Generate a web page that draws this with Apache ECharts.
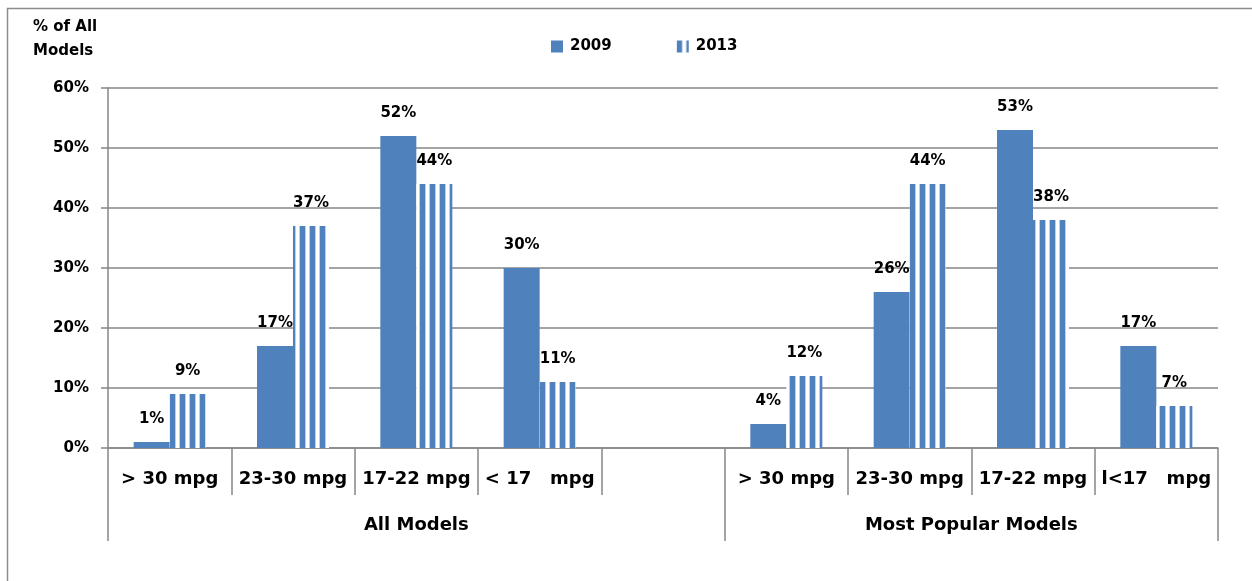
<!DOCTYPE html>
<html>
<head>
<meta charset="utf-8">
<title>Fuel economy distribution, 2009 vs 2013</title>
<script src="https://cdn.jsdelivr.net/npm/echarts@6/dist/echarts.min.js"></script>
<style>
  html, body { margin: 0; padding: 0; background: #fff; }
  #chart { width: 1252px; height: 581px; }
</style>
</head>
<body>
<div id="chart"></div>
<script>
// Fuel-economy bands; the blank slot separates the two model groups
const categories = ['> 30 mpg', '23-30 mpg', '17-22 mpg', '< 17   mpg', '', '> 30 mpg', '23-30 mpg', '17-22 mpg', 'l<17   mpg'];
const values2009 = [1, 17, 52, 30, null, 4, 26, 53, 17];
const values2013 = [9, 37, 44, 11, null, 12, 44, 38, 7];
const groupNames = ['All Models', 'Most Popular Models'];
// group spans in category slots: [start, end)
const groupSpans = [[0, 5], [5, 9]];
const yTicks = [0, 10, 20, 30, 40, 50, 60];

const BLUE = '#4f81bd';
const GRAY = '#868686';
const FONT = '"DejaVu Sans", "Open Sans", sans-serif';

// vertical stripe fill for the 2013 series
function stripePattern() {
  const c = document.createElement('canvas');
  c.width = 10; c.height = 10;
  const g = c.getContext('2d');
  g.fillStyle = '#ffffff';
  g.fillRect(0, 0, 10, 10);
  g.fillStyle = '#bcd0e8';
  g.fillRect(5, 0, 1, 10);
  g.fillRect(9, 0, 1, 10);
  g.fillStyle = BLUE;
  g.fillRect(0, 0, 5, 10);
  return { image: c, repeat: 'repeat' };
}

const chart = echarts.init(document.getElementById('chart'), null, { renderer: 'canvas' });

const labelStyle = {
  show: true,
  position: 'top',
  distance: 15,
  formatter: p => p.value + '%',
  color: '#000',
  fontFamily: FONT,
  fontWeight: 'bold',
  fontSize: 15
};

const groupTickValues = [groupSpans[0][0], groupSpans[0][1], groupSpans[1][1]];
const groupLabelValues = groupSpans.map(s => (s[0] + s[1]) / 2);

chart.setOption({
  animation: false,
  backgroundColor: '#fff',
  title: {
    text: '% of All\nModels',
    left: 33,
    top: 15,
    padding: 0,
    textStyle: { fontFamily: FONT, fontWeight: 'bold', fontSize: 15, color: '#000', lineHeight: 24 }
  },
  legend: {
    left: 551,
    top: 39,
    padding: 0,
    itemWidth: 12,
    itemHeight: 12,
    itemGap: 65,
    icon: 'rect',
    textStyle: { fontFamily: FONT, fontWeight: 'bold', fontSize: 15, color: '#000', padding: [0, 0, 0, 2] },
    data: ['2009', '2013']
  },
  graphic: [{
    type: 'rect',
    shape: { x: 7.5, y: 8.5, width: 1400, height: 800 },
    style: { fill: 'none', stroke: '#8c8c8c', lineWidth: 1.5 },
    silent: true
  }],
  grid: { left: 108, right: 34, top: 88, bottom: 133, containLabel: false },
  xAxis: [{
    type: 'category',
    data: categories,
    boundaryGap: true,
    axisLine: { show: true, lineStyle: { color: GRAY, width: 1.5 } },
    axisTick: { show: true, length: 47, alignWithLabel: false, interval: 0, lineStyle: { color: GRAY, width: 1.5 } },
    axisLabel: {
      interval: 0,
      margin: 22,
      color: '#000',
      fontFamily: FONT,
      fontWeight: 'bold',
      fontSize: 18
    }
  }, {
    type: 'value',
    position: 'bottom',
    min: 0,
    max: categories.length,
    axisLine: { show: false },
    splitLine: { show: false },
    axisTick: { show: true, length: 93, customValues: groupTickValues, lineStyle: { color: GRAY, width: 1.5 } },
    axisLabel: {
      customValues: groupLabelValues,
      margin: 68,
      formatter: v => {
        const i = groupLabelValues.indexOf(v);
        return i >= 0 ? groupNames[i] : '';
      },
      color: '#000',
      fontFamily: FONT,
      fontWeight: 'bold',
      fontSize: 18
    }
  }],
  yAxis: {
    type: 'value',
    min: yTicks[0],
    max: yTicks[yTicks.length - 1],
    interval: 10,
    axisLine: { show: true, lineStyle: { color: GRAY, width: 1.5 } },
    axisTick: { show: true, length: 7, lineStyle: { color: GRAY, width: 1.5 } },
    splitLine: { show: true, lineStyle: { color: GRAY, width: 1.5 } },
    axisLabel: {
      margin: 19,
      formatter: v => v + '%',
      color: '#000',
      fontFamily: FONT,
      fontWeight: 'bold',
      fontSize: 15
    }
  },
  series: [{
    name: '2009',
    type: 'bar',
    data: values2009,
    barWidth: 36,
    barGap: '0%',
    itemStyle: { color: BLUE },
    label: labelStyle
  }, {
    name: '2013',
    type: 'bar',
    data: values2013,
    barWidth: 36,
    barGap: '0%',
    itemStyle: { color: stripePattern() },
    label: labelStyle
  }]
});
</script>
</body>
</html>
